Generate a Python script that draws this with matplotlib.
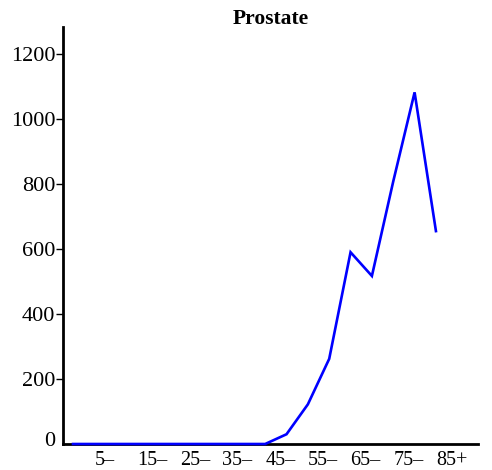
import numpy as np
import matplotlib
matplotlib.use("Agg")
import matplotlib.pyplot as plt
import matplotlib.transforms as mtransforms

# age groups and incidence values
age_groups = ['0-', '5-', '10-', '15-', '20-', '25-', '30-', '35-', '40-',
              '45-', '50-', '55-', '60-', '65-', '70-', '75-', '80-', '85+']
rates = [0, 0, 0, 0, 0, 0, 0, 0, 0,
         0, 30, 122, 262, 590, 517, 808, 1082, 655]
shown_labels = ['5\u2013', '15\u2013', '25\u2013', '35\u2013', '45\u2013',
                '55\u2013', '65\u2013', '75\u2013', '85+']
y_ticks = [0, 200, 400, 600, 800, 1000, 1200]

plt.rcParams['font.family'] = ['Liberation Serif', 'DejaVu Serif']

fig = plt.figure(figsize=(4.92, 4.70), dpi=100)
ax = fig.add_axes([63/492, 1 - 444/470, (478 - 63)/492, (444 - 27)/470])

x = np.arange(len(age_groups))
ax.plot(x, rates, color='#0000ff', lw=1.9, solid_joinstyle='miter', clip_on=False, zorder=3)

ax.set_xlim(-0.47, 18.97)
ax.set_ylim(0, 1283)

ax.set_xticks(x[1::2])
ax.set_xticklabels(shown_labels, ha='left', fontsize=14.5)
ax.tick_params(axis='x', length=0, pad=5)

ax.set_yticks(y_ticks)
ax.set_yticklabels([str(v) for v in y_ticks], fontsize=16)
ax.tick_params(axis='y', length=5, width=1, pad=0.5, direction='out')

# the zero label sits a little above the x axis line
zero_lbl = ax.get_yticklabels()[0]
zero_lbl.set_transform(zero_lbl.get_transform() +
                       mtransforms.ScaledTranslation(0, 5/100, fig.dpi_scale_trans))
ax.yaxis.get_major_ticks()[0].tick1line.set_visible(False)

for s in ['top', 'right']:
    ax.spines[s].set_visible(False)
for s in ['left', 'bottom']:
    ax.spines[s].set_linewidth(2)

ax.set_title('Prostate', fontsize=15.5, fontweight='bold', y=1.0, pad=2)

fig.savefig('out.png', dpi=100)
